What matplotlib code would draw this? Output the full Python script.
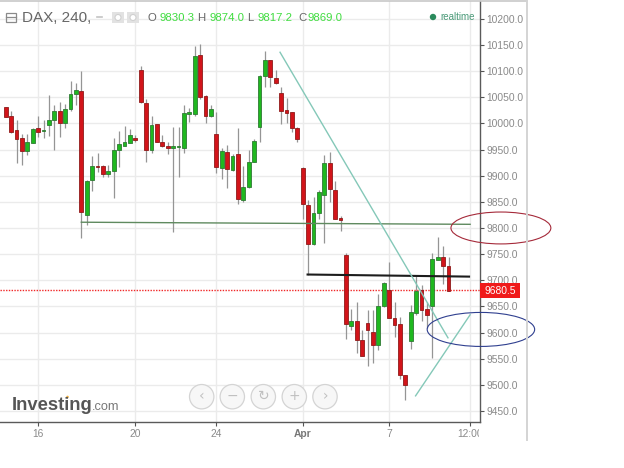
import numpy as np
import matplotlib
matplotlib.use("Agg")
import matplotlib.pyplot as plt
from matplotlib.patches import Circle, Ellipse, Rectangle
from matplotlib.transforms import Bbox

plt.rcParams['font.family'] = ['Liberation Sans', 'DejaVu Sans']

opens = [10031,10014,9987,9972,9948,9963,9991,9985,9996,10006,10023,10000,10028,10056,10062,9825,9891,9919,9919,9904,
         9908,9949,9957,9963,9972,10102,10039,9949,9998,9964,9956,9953,9955,9953,10018,10017,10131,10053,10014,9979,
         9915,9945,9911,9941,9854,9878,9927,9994,10090,10121,10087,10058,10025,10021,9991,9914,9843,9769,9829,9864,
         9924,9872,9819,9748,9613,9623,9585,9619,9602,9576,9650,9681,9628,9616,9518,9583,9638,9681,9645,9650,
         9738,9745,9728]
highs = [10032,10024,10007,9979,9979,9991,10015,10007,10055,10035,10040,10038,10081,10077,10100,9892,9938,9943,9921,9921,
         9972,9986,9995,9990,9978,10110,10047,10014,9999,9978,9965,9994,9994,10036,10029,10147,10151,10054,10035,10022,
         9952,9958,9941,9991,9919,9950,9971,10092,10139,10121,10103,10069,10049,10022,9994,9917,9854,9859,9873,9940,
         9946,9890,9822,9752,9646,9658,9605,9644,9643,9674,9697,9735,9658,9630,9519,9653,9710,9691,9659,9753,
         9783,9766,9744]
lows = [10012,9982,9924,9921,9940,9962,9973,9972,9976,9949,9973,9991,10024,10036,9780,9806,9871,9907,9897,9898,
        9858,9917,9957,9962,9964,10039,9926,9944,9964,9954,9942,9793,9898,9944,10003,10015,10047,10001,10013,9905,
        9894,9877,9908,9846,9850,9877,9926,9965,10069,10069,10075,9999,10001,9984,9964,9818,9710,9767,9817,9771,
        9850,9817,9795,9588,9604,9560,9555,9537,9542,9567,9648,9628,9591,9511,9471,9569,9634,9623,9608,9552,
        9738,9693,9679]
closes = [10013,9984,9970,9948,9964,9989,9983,9986,10006,10023,10001,10027,10056,10063,9831,9890,9919,9917,9904,9908,
          9949,9960,9964,9977,9968,10040,9949,9996,9965,9956,9953,9956,9957,10020,10022,10129,10051,10015,10027,9917,
          9947,9912,9938,9856,9879,9927,9967,10091,10121,10088,10077,10024,10020,9992,9970,9845,9769,9829,9868,9924,
          9874,9818,9815,9616,9623,9585,9555,9604,9576,9650,9695,9628,9614,9518,9500,9639,9680,9643,9634,9740,
          9745,9727,9679]
price_ticks = [9450,9500,9550,9600,9650,9700,9750,9800,9850,9900,9950,10000,10050,10100,10150,10200]
date_pos = [6, 24, 39, 55, 71, 86]
date_labels = ['16', '20', '24', 'Apr', '7', '12:00']
last_price = 9680.5
support_x, support_y = [14, 86], [9811, 9807]
black_x, black_y = [55.9, 85.8], [9711, 9707]
down_x, down_y = [50.8, 81.9], [10136, 9590]
up_x, up_y = [75.9, 86], [9479, 9634]
header_vals = [('O', '9830.3', 147, 159), ('H', '9874.0', 197, 210), ('L', '9817.2', 247, 257), ('C', '9869.0', 298, 307)]

W, H = 624, 468
fig = plt.figure(figsize=(W/100, H/100), dpi=100, facecolor='white')
L, R, T, B = 0, 480, 1, 422
ax = fig.add_axes([L/W, 1-B/H, (R-L)/W, (B-T)/H])
ax.set_xlim(-1.056, 87.83)
ax.set_ylim(9429, 10234)
ax.set_facecolor('white')

ax.set_yticks(price_ticks)
ax.set_yticklabels([f'{p:.1f}' for p in price_ticks])
ax.yaxis.tick_right()
ax.set_xticks(date_pos)
ax.set_xticklabels(date_labels)
ax.grid(True, color='#ebebeb', lw=1)
ax.set_axisbelow(True)
ax.tick_params(axis='y', length=3, width=0.8, color='#555555', labelcolor='#8a8a8a', labelsize=7.4, pad=1.5)
ax.tick_params(axis='x', length=3, width=0.8, color='#555555', labelcolor='#8a8a8a', labelsize=7.4, pad=2)
for s in ('left', 'top'):
    ax.spines[s].set_visible(False)
for s in ('right', 'bottom'):
    ax.spines[s].set_color('#5a5a5a')
    ax.spines[s].set_linewidth(1)
xl = ax.get_xticklabels()
xl[3].set_fontweight('bold')
xl[3].set_color('#777777')
xl[5].set_clip_on(True)
xl[5].set_clip_box(Bbox([[0, 0], [479, 468]]))

idx = np.arange(len(opens))
o, h, l, c = map(np.array, (opens, highs, lows, closes))
up = c >= o
ax.vlines(idx, l, h, color='#959595', lw=0.9, zorder=2)
ax.bar(idx[up], np.maximum(c[up]-o[up], 1.5), bottom=o[up], width=0.72, color='#1fb81f', edgecolor='#2f7a34', lw=0.6, zorder=3)
ax.bar(idx[~up], np.maximum(o[~up]-c[~up], 1.5), bottom=c[~up], width=0.72, color='#d2141a', edgecolor='#8f1a1a', lw=0.6, zorder=3)

ax.plot(support_x, support_y, color='#5f8a5f', lw=1.0, zorder=4)
ax.plot(black_x, black_y, color='#1c1c1c', lw=1.5, zorder=4)
ax.plot(down_x, down_y, color='#84c8b8', lw=1.0, zorder=4)
ax.plot(up_x, up_y, color='#84c8b8', lw=1.0, zorder=4)
ax.axhline(last_price, color='#f02828', lw=1, ls=(0, (1, 1)), zorder=2.5)

ax.add_patch(Ellipse((91.7, 9800), 18.5, 61, fill=False, ec='#a52a3a', lw=0.8, clip_on=False, zorder=6))
ax.add_patch(Ellipse((88.0, 9606), 19.9, 65, fill=False, ec='#2f3f8f', lw=0.8, clip_on=False, zorder=6))

# overlay in pixel coordinates for the widget chrome
ov = fig.add_axes([0, 0, 1, 1], facecolor='none')
ov.set_xlim(0, W)
ov.set_ylim(H, 0)
ov.axis('off')
ov.plot([0, 527], [1, 1], color='#c8c8c8', lw=1.2)
ov.plot([527, 527], [1, 440], color='#d4d4d4', lw=1.4)

# price flag
ov.add_patch(Rectangle((480, 283), 40, 15, fc='#f01a1a', ec='none', zorder=5))
ov.text(500, 290.5, f'{last_price:.1f}', color='white', fontsize=7.4, ha='center', va='center', zorder=6)

# header
ov.add_patch(Rectangle((6, 12.5), 10, 9, fc='none', ec='#8a8a8a', lw=0.9))
ov.plot([6, 16], [17, 17], color='#8a8a8a', lw=0.9)
ov.text(22, 18, 'DAX, 240,', color='#666666', fontsize=11, va='center', ha='left')
ov.plot([97, 102], [17, 17], color='#c4c4c4', lw=1.2)
for x0 in (112, 127):
    ov.add_patch(Rectangle((x0, 12), 12, 11, fc='#e2e2e2', ec='none'))
    ov.add_patch(Circle((x0+6, 17.5), 3, fc='white', ec='#d0d0d0', lw=0.8))
for letter, val, lx, vx in header_vals:
    ov.text(lx, 18, letter, color='#666666', fontsize=8.2, va='center', ha='left')
    ov.text(vx, 18, val, color='#3fdc3f', fontsize=8.2, va='center', ha='left')
ov.add_patch(Circle((433, 17), 3.2, fc='#2a8a5c', ec='none'))
ov.text(440, 17, 'realtime', color='#4a9a78', fontsize=7, va='center', ha='left')

# logo
ov.text(12, 405, 'Investing', color='#555555', fontsize=13.2, fontweight='bold', va='center', ha='left')
ov.text(92, 406.5, '.com', color='#777777', fontsize=9.2, va='center', ha='left')
ov.add_patch(Circle((67.5, 397), 1.3, fc='#f0b040', ec='none'))

# navigation buttons
for cx, sym in zip((201.7, 232.3, 263.3, 294.3, 325), ('\u2039', '\u2212', '\u21bb', '+', '\u203a')):
    ov.add_patch(Circle((cx, 396.7), 12.2, fc='#f7f7f7', ec='#d4d4d4', lw=0.9, zorder=5))
    ov.text(cx, 396, sym, color='#c0c0c0', fontsize=10, ha='center', va='center', zorder=6,
            family=['DejaVu Sans'])

fig.savefig('out.png', dpi=100, facecolor='white')
